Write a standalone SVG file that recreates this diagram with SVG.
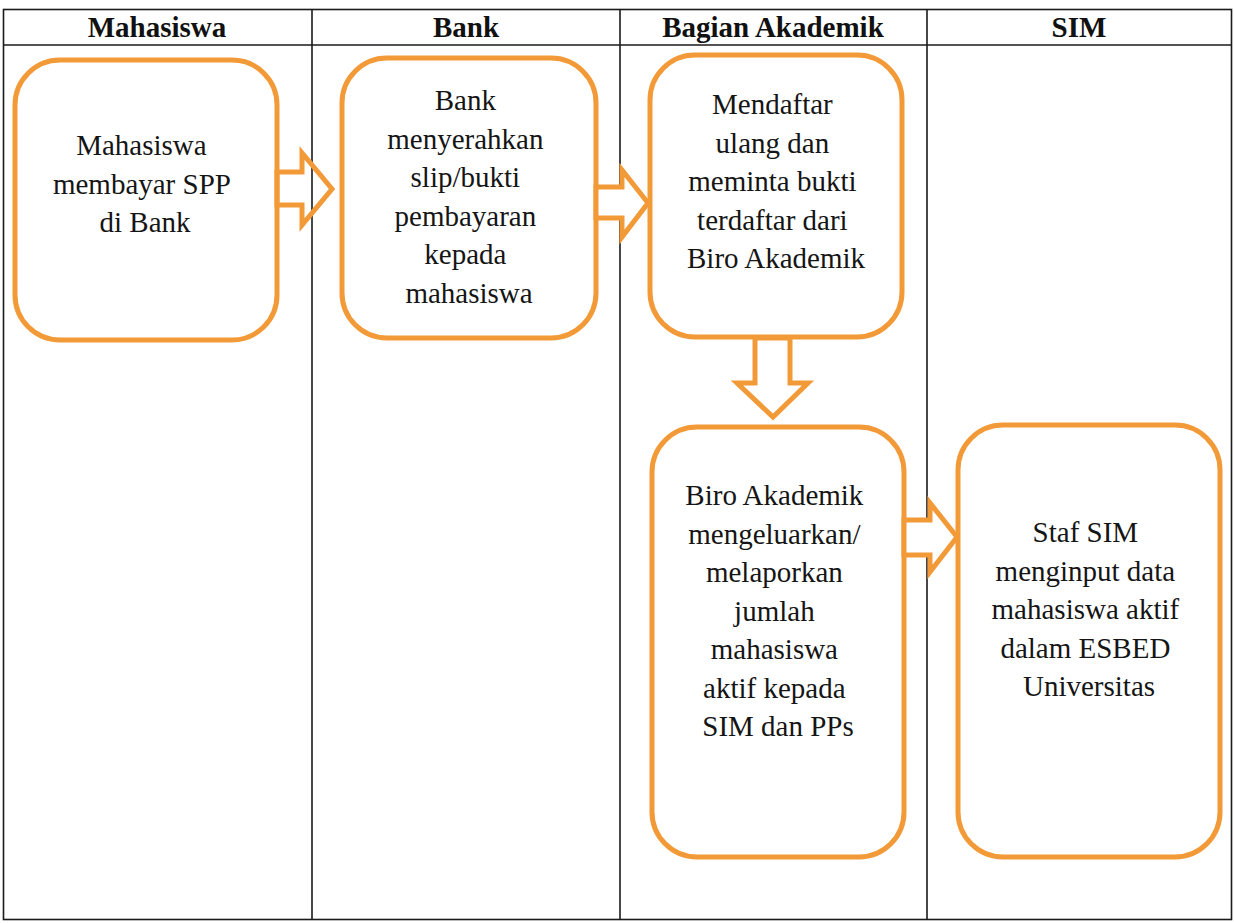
<svg xmlns="http://www.w3.org/2000/svg" width="1234" height="923" viewBox="0 0 1234 923">
  <style>
    .grid { stroke: #1a1a1a; stroke-width: 1.6; fill: none; }
    .head { font-family: "Liberation Serif", "Times New Roman", serif; font-weight: bold; font-size: 29px; fill: #111; text-anchor: middle; }
    .label { font-family: "Liberation Serif", "Times New Roman", serif; font-size: 29px; fill: #151515; text-anchor: middle; }
    .box { fill: #ffffff; stroke: #F39A38; stroke-width: 5; }
    .arrow { stroke: #F39A38; stroke-width: 5; stroke-linejoin: miter; }
  </style>

  <rect width="1234" height="923" fill="#ffffff"/>

  <!-- swimlane table -->
  <g id="lanes">
    <rect class="grid" x="3.5" y="9.5" width="1228" height="910"/>
    <line class="grid" x1="3.5" y1="45" x2="1231.5" y2="45"/>
    <line class="grid" x1="312" y1="9.5" x2="312" y2="919.5"/>
    <line class="grid" x1="620" y1="9.5" x2="620" y2="919.5"/>
    <line class="grid" x1="927" y1="9.5" x2="927" y2="919.5"/>
    <text class="head" x="157" y="37">Mahasiswa</text>
    <text class="head" x="466" y="37">Bank</text>
    <text class="head" x="773" y="37">Bagian Akademik</text>
    <text class="head" x="1079" y="37">SIM</text>
  </g>

  <!-- process steps -->
  <g id="step-bayar">
    <rect class="box" x="15" y="60" width="262" height="280" rx="45"/>
    <text class="label">
      <tspan x="145" y="155">Mahasiswa</tspan>
      <tspan x="145" y="193.5">membayar SPP</tspan>
      <tspan x="145" y="232">di Bank</tspan>
    </text>
  </g>

  <g id="step-slip">
    <rect class="box" x="342" y="58" width="254" height="280" rx="45"/>
    <text class="label">
      <tspan x="469" y="110">Bank</tspan>
      <tspan x="469" y="148.5">menyerahkan</tspan>
      <tspan x="469" y="187">slip/bukti</tspan>
      <tspan x="469" y="225.5">pembayaran</tspan>
      <tspan x="469" y="264">kepada</tspan>
      <tspan x="469" y="302.5">mahasiswa</tspan>
    </text>
  </g>

  <g id="step-daftar">
    <rect class="box" x="650" y="55" width="252" height="282" rx="45"/>
    <text class="label">
      <tspan x="776" y="114">Mendaftar</tspan>
      <tspan x="776" y="152.5">ulang dan</tspan>
      <tspan x="776" y="191">meminta bukti</tspan>
      <tspan x="776" y="229.5">terdaftar dari</tspan>
      <tspan x="776" y="268">Biro Akademik</tspan>
    </text>
  </g>

  <g id="step-lapor">
    <rect class="box" x="652" y="427" width="252" height="430" rx="45"/>
    <text class="label">
      <tspan x="778" y="505">Biro Akademik</tspan>
      <tspan x="778" y="543.5">mengeluarkan/</tspan>
      <tspan x="778" y="582">melaporkan</tspan>
      <tspan x="778" y="620.5">jumlah</tspan>
      <tspan x="778" y="659">mahasiswa</tspan>
      <tspan x="778" y="697.5">aktif kepada</tspan>
      <tspan x="778" y="736">SIM dan PPs</tspan>
    </text>
  </g>

  <g id="step-input">
    <rect class="box" x="958" y="425" width="262" height="432" rx="45"/>
    <text class="label">
      <tspan x="1089" y="542">Staf SIM</tspan>
      <tspan x="1089" y="580.5">menginput data</tspan>
      <tspan x="1089" y="619">mahasiswa aktif</tspan>
      <tspan x="1089" y="657.5">dalam ESBED</tspan>
      <tspan x="1089" y="696">Universitas</tspan>
    </text>
  </g>

  <!-- block arrows between steps -->
  <g id="connectors">
    <polygon class="arrow" fill="none" points="277,172 302,172 302,153 332,189 302,225 302,205 277,205"/>
    <polygon class="arrow" fill="#ffffff" points="596,187 622,187 622,170 648,203 622,237 622,218 596,218"/>
    <polygon class="arrow" fill="#ffffff" points="755,338 790,338 790,383 808,383 773,417 737,383 755,383"/>
    <polygon class="arrow" fill="#ffffff" points="904,520 930,520 930,503 957,537 930,572 930,555 904,555"/>
  </g>
</svg>
